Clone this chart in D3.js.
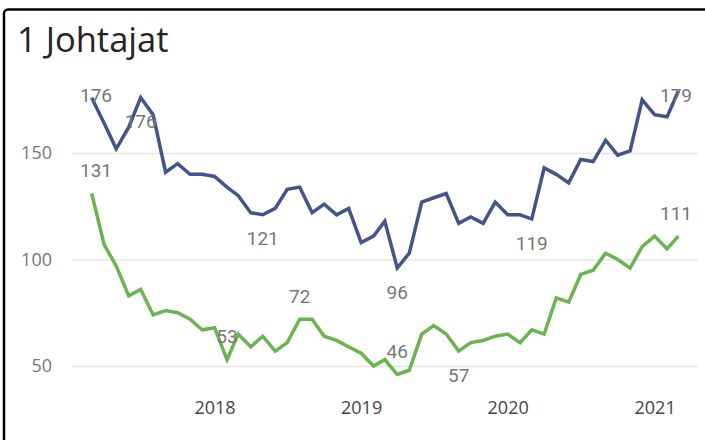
<!DOCTYPE html>
<html>
<head>
<meta charset="utf-8">
<script src="https://cdn.jsdelivr.net/npm/d3@7"></script>
<style>
	html, body { margin: 0; padding: 0; background: #fff; overflow: hidden; }
	svg { display: block; }
</style>
</head>
<body>
<div id="chart"></div>
<script>
// Months, March 2017 .. March 2021
var months = [
	"2017-03", "2017-04", "2017-05", "2017-06", "2017-07", "2017-08", "2017-09", "2017-10", "2017-11", "2017-12",
	"2018-01", "2018-02", "2018-03", "2018-04", "2018-05", "2018-06", "2018-07", "2018-08", "2018-09", "2018-10", "2018-11", "2018-12",
	"2019-01", "2019-02", "2019-03", "2019-04", "2019-05", "2019-06", "2019-07", "2019-08", "2019-09", "2019-10", "2019-11", "2019-12",
	"2020-01", "2020-02", "2020-03", "2020-04", "2020-05", "2020-06", "2020-07", "2020-08", "2020-09", "2020-10", "2020-11", "2020-12",
	"2021-01", "2021-02", "2021-03"
];

var blueValues = [176, 164, 152, 162, 176, 168, 141, 145, 140, 140,
	139, 134, 130, 122, 121, 124, 133, 134, 122, 126, 121, 124,
	108, 111, 118, 96, 103, 127, 129, 131, 117, 120, 117, 127,
	121, 121, 119, 143, 140, 136, 147, 146, 156, 149, 151, 175,
	168, 167, 179];

var greenValues = [131, 107, 97, 83, 86, 74, 76, 75, 72, 67,
	68, 53, 65, 59, 64, 57, 61, 72, 72, 64, 62, 59,
	56, 50, 53, 46, 48, 65, 69, 65, 57, 61, 62, 64,
	65, 61, 67, 65, 82, 80, 93, 95, 103, 100, 96,
	106, 111, 105, 111];

var yTicks = [50, 100, 150];

// which points carry a data label, and on which side of the line
var blueLabels = [[0, "above"], [4, "below"], [14, "below"], [25, "below"], [36, "below"], [48, "above"]];
var greenLabels = [[0, "above"], [11, "above"], [17, "above"], [25, "above"], [30, "below"], [48, "above"]];

var width = 705, height = 440;
var plot = {left: 72, right: 698, top: 78.5, bottom: 387.3};
var parseMonth = d3.timeParse("%Y-%m");
var dates = months.map(parseMonth);

var svg = d3.select("#chart").append("svg")
		.attr("width", width)
		.attr("height", height);

// card
svg.append("rect")
		.attr("x", 4)
		.attr("y", 9.5)
		.attr("width", width + 20)
		.attr("height", height + 20)
		.attr("rx", 4)
		.style("fill", "#fff")
		.style("stroke", "#000")
		.style("stroke-width", 2.5);

svg.append("text")
		.attr("x", 17)
		.attr("y", 52)
		.style("font-family", "'Segoe UI', 'Open Sans', sans-serif")
		.style("font-size", "34.5px")
		.style("fill", "#252423")
		.text("1 Johtajat");

var x = d3.scaleTime()
		.domain([dates[0], dates[dates.length - 1]])
		.range([91.7, 678.3]);

var y = d3.scaleLinear()
		.domain([40, 185])
		.range([plot.bottom, plot.top]);

// y axis with gridlines
var yAxis = svg.append("g")
		.attr("class", "y-axis")
		.attr("transform", "translate(" + plot.left + ",0)")
		.call(d3.axisLeft(y).tickValues(yTicks).tickSize(-(plot.right - plot.left)).tickPadding(20));

yAxis.select(".domain").remove();
yAxis.selectAll(".tick line")
		.style("stroke", "#e6e6e6")
		.style("stroke-width", 1.5);
yAxis.selectAll(".tick text")
		.style("font-family", "'Segoe UI', 'Open Sans', sans-serif")
		.style("font-size", "18px")
		.style("fill", "#777");

// x axis
var xAxis = svg.append("g")
		.attr("class", "x-axis")
		.attr("transform", "translate(0," + plot.bottom + ")")
		.call(d3.axisBottom(x).ticks(d3.timeYear.every(1)).tickFormat(d3.timeFormat("%Y")).tickSize(0).tickPadding(14));

xAxis.select(".domain").remove();
xAxis.selectAll(".tick text")
		.style("font-family", "'Segoe UI', 'Open Sans', sans-serif")
		.style("font-size", "18px")
		.style("fill", "#444");

var line = d3.line()
		.x(function(d, i) { return x(dates[i]); })
		.y(function(d) { return y(d); });

var series = [
	{name: "blue", values: blueValues, labels: blueLabels, color: "#43548a"},
	{name: "green", values: greenValues, labels: greenLabels, color: "#6ab54f"}
];

series.forEach(function(s) {
	svg.append("path")
			.datum(s.values)
			.attr("d", line)
			.style("fill", "none")
			.style("stroke", s.color)
			.style("stroke-width", 3.5)
			.style("stroke-linejoin", "miter");
});

// data labels
series.forEach(function(s) {
	svg.selectAll(".label-" + s.name)
			.data(s.labels)
		.enter().append("text")
			.attr("class", "label-" + s.name)
			.attr("x", function(d) { return Math.max(96, Math.min(676, x(dates[d[0]]))); })
			.attr("y", function(d) {
				var cy = y(s.values[d[0]]) + (d[1] === "above" ? -23 : 24);
				return Math.max(95, cy);
			})
			.attr("dy", "0.35em")
			.style("text-anchor", "middle")
			.style("font-family", "'DIN', Roboto, sans-serif")
			.style("font-size", "19px")
			.style("fill", "#777")
			.text(function(d) { return s.values[d[0]]; });
});
</script>
</body>
</html>
